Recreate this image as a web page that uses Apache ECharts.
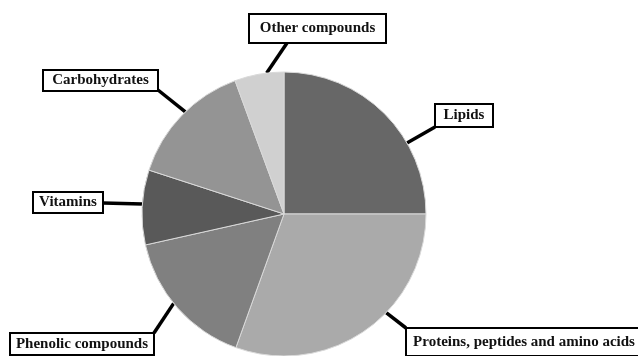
<!DOCTYPE html>
<html>
<head>
<meta charset="utf-8">
<script src="https://cdn.jsdelivr.net/npm/echarts@6/dist/echarts.min.js"></script>
<style>
  html, body { margin: 0; padding: 0; background: #fff; }
  #chart { width: 638px; height: 356px; }
</style>
</head>
<body>
<div id="chart"></div>
<script>
// slice order, clockwise from 12 o'clock
const names = ['Lipids', 'Proteins, peptides and amino acids', 'Phenolic compounds', 'Vitamins', 'Carbohydrates', 'Other compounds'];
const values = [25, 30.5, 16, 8.5, 14.4, 5.6];
const colors = ['#676767', '#aaaaaa', '#808080', '#595959', '#949494', '#d0d0d0'];

// pie geometry
const cx = 284, cy = 214, r = 142;

// label boxes: [left, top, width, height], where the leader line meets the box, angle the line leaves the pie
const boxes = {
  'Lipids': { box: [435, 104, 58, 23], end: [435, 127], angle: 60 },
  'Proteins, peptides and amino acids': { box: [406, 328, 236, 28], end: [406, 328], angle: 134 },
  'Phenolic compounds': { box: [10, 333, 144, 22], end: [154, 333], angle: 231 },
  'Vitamins': { box: [33, 192, 70, 21], end: [103, 203], angle: 274 },
  'Carbohydrates': { box: [43, 70, 115, 21], end: [158, 90], angle: 316 },
  'Other compounds': { box: [249, 14, 137, 29], end: [287, 43], angle: 353 }
};

function edgePoint(deg) {
  const a = deg * Math.PI / 180;
  return [cx + r * Math.sin(a), cy - r * Math.cos(a)];
}

const chart = echarts.init(document.getElementById('chart'));

const data = names.map((n, i) => {
  const b = boxes[n].box;
  return {
    name: n,
    value: values[i],
    itemStyle: { color: colors[i] },
    label: { width: b[2] - 2, lineHeight: b[3] - 2 }
  };
});

chart.setOption({
  animation: false,
  series: [{
    type: 'pie',
    center: [cx, cy],
    radius: r,
    startAngle: 90,
    clockwise: true,
    data: data,
    itemStyle: { borderColor: '#d9d9d9', borderWidth: 1 },
    label: {
      show: true,
      position: 'outside',
      formatter: '{b}',
      fontFamily: 'Liberation Serif',
      fontWeight: 'bold',
      fontSize: 15,
      color: '#111',
      backgroundColor: '#fff',
      borderColor: '#000',
      borderWidth: 2,
      padding: 0
    },
    labelLine: {
      show: true,
      length: 20,
      length2: 10,
      lineStyle: { color: '#000', width: 3.5 }
    },
    labelLayout: function (params) {
      const cfg = boxes[names[params.dataIndex]];
      const b = cfg.box;
      const p0 = edgePoint(cfg.angle);
      return {
        x: b[0] + b[2] / 2,
        y: b[1] + 1,
        align: 'center',
        verticalAlign: 'top',
        labelLinePoints: [p0, cfg.end, cfg.end]
      };
    },
    emphasis: { disabled: true }
  }]
});
</script>
</body>
</html>
